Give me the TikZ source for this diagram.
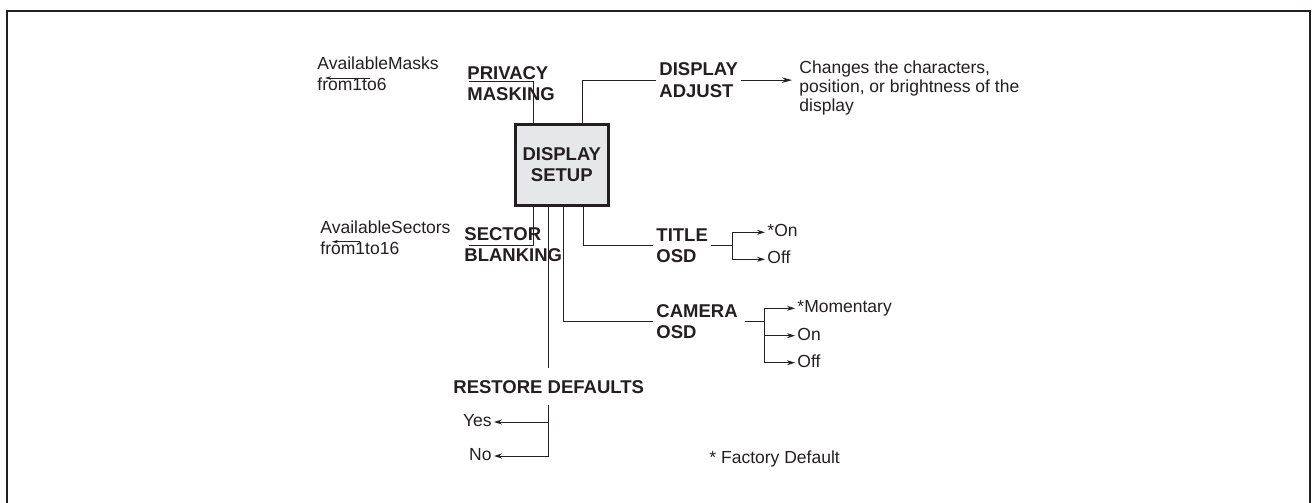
\documentclass[tikz,border=0pt]{standalone}
\usepackage{fontspec}
\setmainfont{Liberation Sans}
\usetikzlibrary{arrows.meta}
\definecolor{ink}{RGB}{35,31,32}
\definecolor{boxgray}{RGB}{230,231,232}

\begin{document}
\begin{tikzpicture}[x=1pt, y=-1pt, line width=0.9pt, color=ink,
    lbl/.style={anchor=base west, inner sep=3pt, align=left,
      font=\fontsize{18.5}{21}\selectfont\bfseries},
    txt/.style={anchor=base west, inner sep=3pt, align=left,
      font=\fontsize{17.5}{20.7}\selectfont},
    opt/.style={inner sep=2pt, text height=9pt, text depth=0pt,
      font=\fontsize{17.5}{21}\selectfont},
    arr/.style={-{Stealth[length=8pt,width=5pt]}},
    smallarr/.style={-{Stealth[length=6pt,width=3.5pt]}},
    bigarr/.style={-{Stealth[length=10pt,width=5.5pt]}}]
  \useasboundingbox (0,0) rectangle (1314,503);
  \draw[line width=2pt] (7,503) -- (7,11) -- (1310,11) -- (1310,503);

  \node[draw=ink, line width=2.5pt, fill=boxgray, minimum width=93pt,
        minimum height=81pt, inner sep=0pt, align=center,
        font=\fontsize{18.5}{21}\selectfont\bfseries] (setup) at (561.8,165) {DISPLAY\\SETUP};

  \node[lbl] (priv) at (464,100) {PRIVACY\\MASKING};
  \node[lbl] (adj) at (656,97) {DISPLAY\\ADJUST};
  \node[lbl] (sect) at (461,261.7) {SECTOR\\BLANKING};
  \node[lbl] (title) at (653,262.7) {TITLE\\OSD};
  \node[lbl] (cam) at (653,338.3) {CAMERA\\OSD};
  \node[lbl] (rest) at (450,393.3) {RESTORE DEFAULTS};

  \node[txt] (masks) at (314,90.7) {AvailableMasks\\from1to6};
  \node[txt] (sectors) at (317,254.3) {AvailableSectors\\from1to16};
  \node[txt, font=\fontsize{17.5}{19.2}\selectfont] (changes) at (796,111.7)
    {Changes the characters,\\position, or brightness of the\\display};
  \node[txt] (factory) at (706,463.3) {* Factory Default};

  \node[opt, anchor=west] (ton) at (765,232.3) {*On};
  \node[opt, anchor=west] (toff) at (765,259.3) {Off};
  \node[opt, anchor=west] (cmom) at (795,308.3) {*Momentary};
  \node[opt, anchor=west] (con) at (795,335.7) {On};
  \node[opt, anchor=west] (coff) at (795,362.7) {Off};
  \node[opt, anchor=east] (yes) at (494,422) {Yes};
  \node[opt, anchor=east] (no) at (494,456) {No};

  \coordinate (n1) at ([xshift=19pt]setup.north west);
  \coordinate (n2) at ([xshift=68pt]setup.north west);
  \coordinate (s1) at ([xshift=19pt]setup.south west);
  \coordinate (s2) at ([xshift=34pt]setup.south west);
  \coordinate (s3) at ([xshift=49pt]setup.south west);
  \coordinate (s4) at ([xshift=69pt]setup.south west);
  \coordinate (pu) at ([xshift=5pt,yshift=19pt]priv.base west);
  \coordinate (su) at ([xshift=8pt,yshift=16.7pt]sect.base west);
  \coordinate (r1) at (s2 |- rest.south);
  \coordinate (ma) at (370,78);
  \coordinate (sa) at (360,241.7);

  \draw (n1) |- (pu);
  \draw (n2) |- (adj.west);
  \draw[bigarr, shorten >=4pt] (adj.east) -- (adj.east -| changes.west);
  \draw[smallarr] (ma) -- ++(-45pt,0);
  \draw[smallarr] (sa) -- ++(-28pt,0);

  \draw (s1) |- (su);
  \draw (s4) |- (title.west);
  \draw (s3) |- (cam.west);
  \draw[shorten >=9pt] (s2) -- (s2 |- rest.north);

  \draw (title.east) -- ++(21pt,0) coordinate (tf);
  \draw[arr] (tf) |- (ton.west);
  \draw[arr] (tf) |- (toff.west);

  \draw ([xshift=4pt]cam.east) -- ++(19pt,0) coordinate (cf);
  \draw[arr] (cf) |- (cmom.west);
  \draw[arr] (cf) |- (con.west);
  \draw[arr] (cf) |- (coff.west);

  \draw[arr] ([yshift=-8pt]r1) |- (no.east);
  \draw[arr] (r1 |- yes.east) -- (yes.east);
\end{tikzpicture}
\end{document}
